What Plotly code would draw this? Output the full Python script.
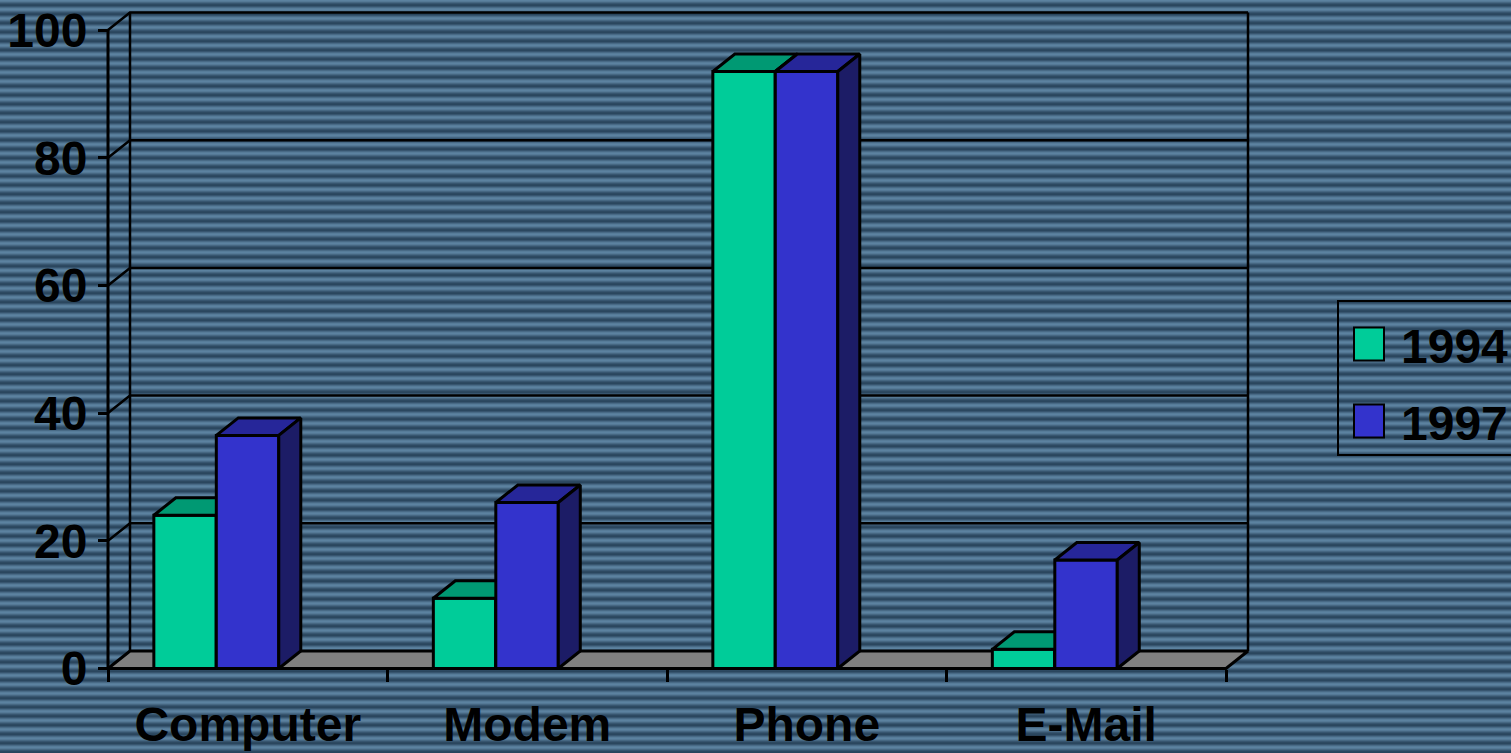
import plotly.graph_objects as go

# ---- data ----
categories = ["Computer", "Modem", "Phone", "E-Mail"]
series_names = ["1994", "1997"]
values_1994 = [24, 11, 93.5, 3]
values_1997 = [36.5, 26, 93.5, 17]
y_ticks = [0, 20, 40, 60, 80, 100]

# ---- styling ----
W, H = 1511, 753
FONT = "Liberation Sans"
FACE = {"1994": ("#00cc99", "#009973", "#007a5c"),
        "1997": ("#3333cc", "#262699", "#1c1c66")}
FLOOR = "#808080"
STRIPE_DARK = "rgb(42,70,94)"
STRIPE_LIGHT = "rgb(92,130,160)"
stripe_profile = [1.0, 0.85, 0.55, 0.25, 0.05, 0.0, 0.25, 0.6, 0.9]  # one band

# plot geometry (pixels)
X0_PX, PX_PER_CAT = 108, 279.5
Y0_PX, PX_PER_UNIT = 668.5, 6.385
DEPTH_X_PX, DEPTH_Y_PX = 22, 17.5
DX = DEPTH_X_PX / PX_PER_CAT
DY = DEPTH_Y_PX / PX_PER_UNIT
BAR_OFFSET, BAR_W = 0.164, 0.2235
YMAX = 100
NCAT = len(categories)

x_range = [-X0_PX / PX_PER_CAT, (W - X0_PX) / PX_PER_CAT]
y_range = [-(H - Y0_PX) / PX_PER_UNIT, Y0_PX / PX_PER_UNIT]

fig = go.Figure()

# striped backdrop on a pixel-space base axis
rows = list(range(H))
z = [[stripe_profile[r % len(stripe_profile)]] * 2 for r in rows]
fig.add_trace(go.Heatmap(z=z, x=[0, W], y=[r + 0.5 for r in rows],
                         colorscale=[[0, STRIPE_DARK], [1, STRIPE_LIGHT]],
                         showscale=False, hoverinfo="skip", zsmooth=False,
                         xaxis="x", yaxis="y"))

AX = dict(xaxis="x2", yaxis="y2")
LINE = dict(color="black", width=3)
GRID = dict(color="black", width=2.5)


def poly(pts, fill):
    xs = [p[0] for p in pts] + [pts[0][0]]
    ys = [p[1] for p in pts] + [pts[0][1]]
    return go.Scatter(x=xs, y=ys, mode="lines", fill="toself", fillcolor=fill,
                      line=LINE, hoverinfo="skip", showlegend=False, **AX)


def polyline(xs, ys, line=GRID):
    return go.Scatter(x=xs, y=ys, mode="lines", line=line, hoverinfo="skip",
                      showlegend=False, **AX)


# back wall gridlines with the left-wall diagonals
for v in y_ticks[1:]:
    fig.add_trace(polyline([0, DX, NCAT + DX], [v, v + DY, v + DY]))
# back wall verticals
fig.add_trace(polyline([DX, DX], [DY, YMAX + DY]))
fig.add_trace(polyline([NCAT + DX, NCAT + DX], [DY, YMAX + DY]))

# floor
fig.add_trace(poly([(0, 0), (NCAT, 0), (NCAT + DX, DY), (DX, DY)], FLOOR))

# 3-D bars
for ci in range(NCAT):
    for si, (name, vals) in enumerate(zip(series_names, [values_1994, values_1997])):
        h = vals[ci]
        x0 = ci + BAR_OFFSET + si * BAR_W
        x1 = x0 + BAR_W
        front, top, side = FACE[name]
        fig.add_trace(poly([(x0, 0), (x1, 0), (x1, h), (x0, h)], front))
        fig.add_trace(poly([(x0, h), (x1, h), (x1 + DX, h + DY), (x0 + DX, h + DY)], top))
        fig.add_trace(poly([(x1, 0), (x1 + DX, DY), (x1 + DX, h + DY), (x1, h)], side))

# front value axis line
fig.add_trace(polyline([0, 0], [0, YMAX], LINE))

tick_font = dict(family=FONT, size=48, color="black", weight="bold")

fig.update_layout(
    width=W, height=H, margin=dict(l=0, r=0, t=0, b=0),
    paper_bgcolor=STRIPE_DARK, plot_bgcolor="rgba(0,0,0,0)",
    showlegend=False,
    xaxis=dict(range=[0, W], visible=False, fixedrange=True),
    yaxis=dict(range=[H, 0], visible=False, fixedrange=True),
    xaxis2=dict(overlaying="x", anchor="free", position=(H - Y0_PX) / H,
                range=x_range, showgrid=False, zeroline=False, showline=False,
                tickmode="array", tickvals=[i + 0.5 for i in range(NCAT)],
                ticktext=categories, ticks="", tickfont=tick_font,
                ticklabelstandoff=23,
                minor=dict(tickmode="array", tickvals=list(range(NCAT + 1)),
                           ticks="outside", ticklen=12, tickwidth=2.5,
                           tickcolor="black", showgrid=False)),
    yaxis2=dict(overlaying="y", anchor="free", position=X0_PX / W, side="left",
                range=y_range, showgrid=False, zeroline=False, showline=False,
                tickmode="array", tickvals=y_ticks, ticks="outside",
                ticklen=10, tickwidth=2.5, tickcolor="black", tickfont=tick_font,
                ticklabelstandoff=1),
)

# legend panel (pixel-space base axis)
fig.add_shape(type="rect", xref="x", yref="y", x0=1338, x1=W + 10, y0=301, y1=455,
              line=dict(color="black", width=2), fillcolor="rgba(0,0,0,0)")
for i, name in enumerate(series_names):
    cy = 344 + i * 77
    fig.add_shape(type="rect", xref="x", yref="y", x0=1354, x1=1384,
                  y0=cy - 16.5, y1=cy + 16.5, line=dict(color="black", width=2),
                  fillcolor=FACE[name][0])
    fig.add_annotation(xref="x", yref="y", x=1399, y=cy + 2, text=name,
                       showarrow=False, xanchor="left", yanchor="middle",
                       font=tick_font)

fig.write_html("out.html")
